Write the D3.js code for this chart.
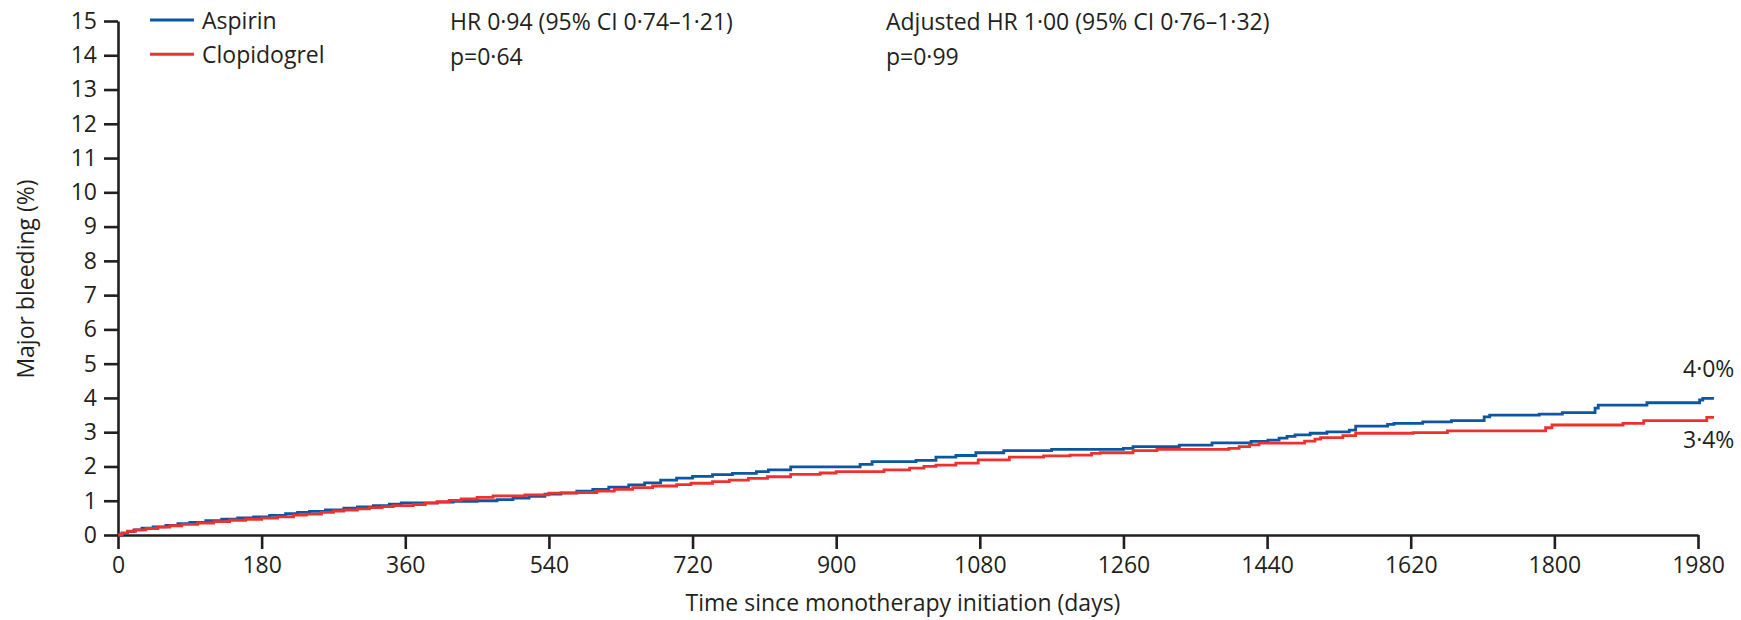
<!DOCTYPE html>
<html>
<head>
<meta charset="utf-8">
<script src="https://cdn.jsdelivr.net/npm/d3@7"></script>
<style>
body { margin:0; background:#ffffff; }
text { font-family:"Open Sans", sans-serif; fill:#231f20; }
</style>
</head>
<body>
<div id="chart"></div>
<script>
// Kaplan-Meier steps (day, cumulative %)
var aspirinDays = [0,5,12,20,30,44,60,75,90,110,130,150,170,190,210,225,240,260,283,300,320,340,355,400,420,450,475,495,515,535,555,575,595,615,640,660,680,700,720,745,770,800,815,843,930,945,1000,1025,1050,1075,1110,1170,1260,1272,1330,1371,1420,1441,1455,1465,1475,1494,1515,1543,1551,1591,1599,1635,1671,1712,1719,1781,1810,1851,1855,1916,1982,1986,2000];
var aspirinPct = [0,0.05,0.1,0.15,0.2,0.24,0.28,0.33,0.37,0.42,0.46,0.5,0.53,0.57,0.62,0.66,0.69,0.73,0.78,0.82,0.86,0.9,0.94,0.96,0.98,1.0,1.03,1.08,1.13,1.19,1.23,1.28,1.33,1.4,1.46,1.52,1.6,1.66,1.71,1.76,1.8,1.85,1.9,1.99,2.06,2.14,2.18,2.27,2.32,2.4,2.46,2.5,2.53,2.58,2.62,2.69,2.73,2.77,2.83,2.88,2.92,2.97,3.01,3.06,3.18,3.23,3.26,3.3,3.34,3.45,3.5,3.53,3.57,3.7,3.79,3.86,3.94,3.99,3.99];

var clopidogrelDays = [0,5,12,22,35,50,65,80,100,120,140,160,180,200,220,236,255,270,283,300,315,331,345,370,385,400,415,430,450,470,510,540,575,600,622,645,670,700,718,745,766,790,814,843,880,900,960,992,1010,1025,1050,1078,1117,1160,1193,1220,1231,1272,1302,1392,1405,1418,1430,1487,1500,1507,1535,1551,1623,1666,1789,1797,1886,1912,1991,2000];
var clopidogrelPct = [0,0.06,0.11,0.15,0.19,0.23,0.27,0.31,0.35,0.39,0.43,0.46,0.49,0.53,0.58,0.61,0.66,0.7,0.73,0.76,0.8,0.83,0.86,0.89,0.93,0.97,1.01,1.05,1.1,1.14,1.17,1.22,1.24,1.28,1.33,1.38,1.43,1.47,1.51,1.56,1.6,1.65,1.7,1.77,1.81,1.85,1.9,1.95,2.0,2.04,2.1,2.19,2.27,2.31,2.33,2.38,2.4,2.46,2.5,2.53,2.58,2.63,2.68,2.74,2.8,2.84,2.9,2.97,2.99,3.04,3.13,3.21,3.26,3.34,3.43,3.43];

var xTicks = [0,180,360,540,720,900,1080,1260,1440,1620,1800,1980];
var yTicks = [0,1,2,3,4,5,6,7,8,9,10,11,12,13,14,15];

var seriesNames = ["Aspirin", "Clopidogrel"];
var seriesColors = ["#0b57a3", "#f0302c"];
var endLabels = ["4·0%", "3·4%"];
var statsLeft = ["HR 0·94 (95% CI 0·74–1·21)", "p=0·64"];
var statsRight = ["Adjusted HR 1·00 (95% CI 0·76–1·32)", "p=0·99"];

var W = 1741, H = 620;
var ink = "#231f20";

var svg = d3.select("#chart").append("svg")
	.attr("width", W)
	.attr("height", H);

var x = d3.scaleLinear().domain([0, 1980]).range([118, 1698]);
var y = d3.scaleLinear().domain([0, 15]).range([535, 21]);

//Axes
var xAxis = d3.axisBottom(x).tickValues(xTicks).tickFormat(d3.format("d"))
	.tickSize(14).tickSizeOuter(0).tickPadding(8);
var yAxis = d3.axisLeft(y).tickValues(yTicks).tickFormat(d3.format("d"))
	.tickSize(14).tickSizeOuter(0).tickPadding(7);

var gx = svg.append("g").attr("transform", "translate(0," + y(0) + ")").call(xAxis);
var gy = svg.append("g").attr("transform", "translate(" + x(0) + ",0)").call(yAxis);

[gx, gy].forEach(function(g){
	g.select(".domain").attr("stroke", ink).attr("stroke-width", 2.6);
	g.selectAll(".tick line").attr("stroke", ink).attr("stroke-width", 2.6);
	g.selectAll(".tick text")
		.attr("font-family", "Open Sans, sans-serif")
		.attr("font-size", 23)
		.attr("fill", ink);
});

//Curves
var series = [
	{days: aspirinDays, pct: aspirinPct},
	{days: clopidogrelDays, pct: clopidogrelPct}
];
var line = d3.line()
	.x(function(d){ return x(d[0]); })
	.y(function(d){ return y(d[1]); })
	.curve(d3.curveStepAfter);

series.forEach(function(s, i){
	var pts = s.days.map(function(d, j){ return [d, s.pct[j]]; });
	svg.append("path")
		.attr("d", line(pts))
		.attr("fill", "none")
		.attr("stroke", seriesColors[i])
		.attr("stroke-width", 2.8)
		.attr("stroke-linejoin", "miter");
});

//End labels
svg.append("text").attr("x", 1683).attr("y", 377).attr("font-size", 23).text(endLabels[0]);
svg.append("text").attr("x", 1683).attr("y", 448).attr("font-size", 23).text(endLabels[1]);

//Legend
seriesNames.forEach(function(name, i){
	var ly = y(15 - i);
	svg.append("line")
		.attr("x1", 150).attr("x2", 194)
		.attr("y1", ly - 1).attr("y2", ly - 1)
		.attr("stroke", seriesColors[i])
		.attr("stroke-width", 2.8);
	svg.append("text")
		.attr("x", 202)
		.attr("y", ly + 8)
		.attr("font-size", 23)
		.text(name);
});

//Stats
statsLeft.forEach(function(t, i){
	svg.append("text").attr("x", 450).attr("y", 30 + i*35).attr("font-size", 23).text(t);
});
statsRight.forEach(function(t, i){
	svg.append("text").attr("x", 886).attr("y", 30 + i*35).attr("font-size", 23).text(t);
});

//Axis titles
svg.append("text")
	.attr("x", 903)
	.attr("y", 611)
	.attr("text-anchor", "middle")
	.attr("font-size", 23)
	.text("Time since monotherapy initiation (days)");

svg.append("text")
	.attr("transform", "translate(34,279) rotate(-90)")
	.attr("text-anchor", "middle")
	.attr("font-size", 23)
	.text("Major bleeding (%)");
</script>
</body>
</html>
